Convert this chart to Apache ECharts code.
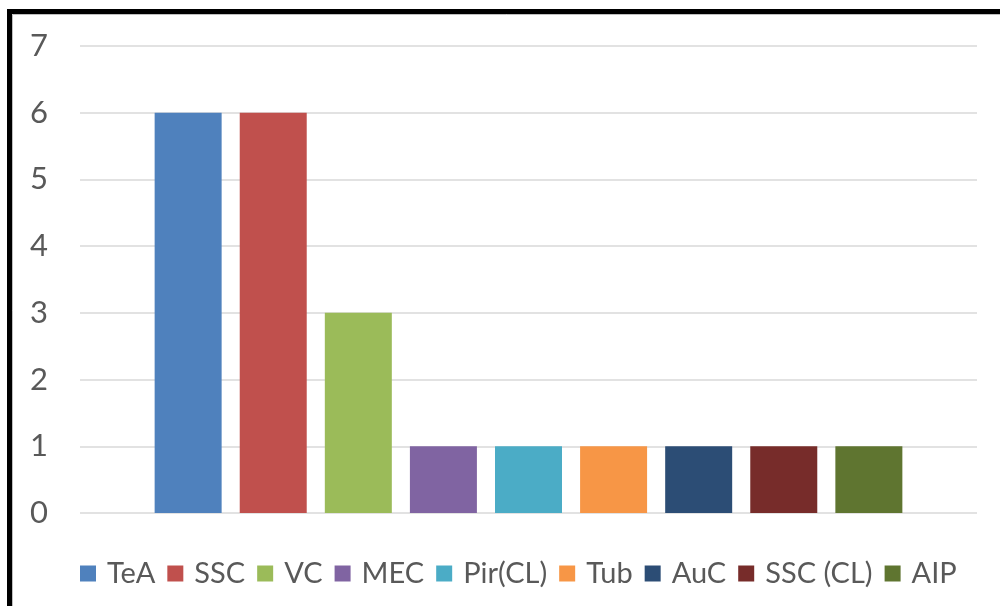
<!DOCTYPE html>
<html>
<head>
<meta charset="utf-8">
<script src="https://cdn.jsdelivr.net/npm/echarts@6/dist/echarts.min.js"></script>
<style>
  html, body { margin: 0; padding: 0; background: #fff; }
  #chart { width: 1000px; height: 606px; }
</style>
</head>
<body>
<div id="chart"></div>
<script>
// Counts per group, one bar each
const groups = ['TeA', 'SSC', 'VC', 'MEC', 'Pir(CL)', 'Tub', 'AuC', 'SSC (CL)', 'AIP'];
const counts = [6, 6, 3, 1, 1, 1, 1, 1, 1];
const colors = ['#4F81BD', '#C0504D', '#9BBB59', '#8064A2', '#4BACC6', '#F79646', '#2C4D75', '#772C2A', '#5F7530'];
const yTicks = [0, 1, 2, 3, 4, 5, 6, 7];

const chart = echarts.init(document.getElementById('chart'), null, { renderer: 'canvas' });

const series = groups.map((name, i) => ({
  name: name,
  type: 'bar',
  data: [counts[i]],
  barWidth: 67,
  barGap: '27%',
  itemStyle: { color: colors[i] }
}));

chart.setOption({
  animation: false,
  textStyle: { fontFamily: 'Lato' },
  graphic: [
    {
      type: 'rect',
      shape: { x: 9.5, y: 11.5, width: 1100, height: 700 },
      style: { fill: 'none', stroke: '#000', lineWidth: 5 }
    },
    {
      type: 'rect',
      shape: { x: 12.5, y: 14.5, width: 1100, height: 700 },
      style: { fill: 'none', stroke: '#bfbfbf', lineWidth: 1 }
    }
  ],
  grid: { left: 80, right: 23, top: 46, bottom: 93 },
  legend: {
    data: groups,
    bottom: 13,
    left: 75,
    itemWidth: 16,
    itemHeight: 16,
    itemGap: 12,
    icon: 'rect',
    textStyle: { fontSize: 29, color: '#595959', padding: [0, 0, 0, 6] }
  },
  xAxis: {
    type: 'category',
    data: [''],
    axisLine: { show: false },
    axisTick: { show: false },
    axisLabel: { show: false }
  },
  yAxis: {
    type: 'value',
    min: yTicks[0],
    max: yTicks[yTicks.length - 1],
    interval: 1,
    axisLine: { show: false },
    axisTick: { show: false },
    axisLabel: { fontSize: 31, color: '#595959', margin: 32 },
    splitLine: { lineStyle: { color: '#d9d9d9', width: 1.5 } }
  },
  series: series
});
</script>
</body>
</html>
